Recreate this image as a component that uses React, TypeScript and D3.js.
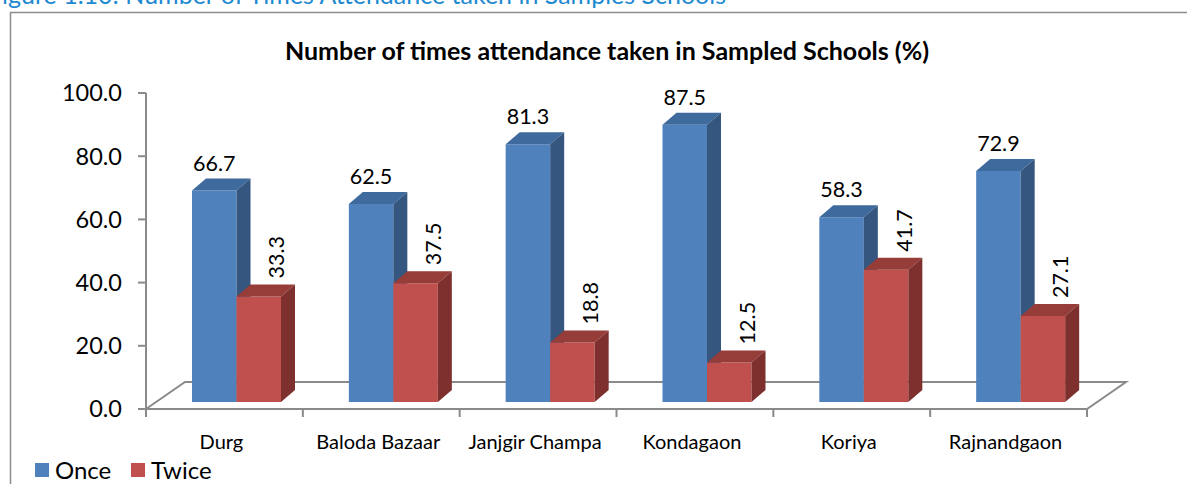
import React from "react";
import * as d3 from "d3";

const categories = ["Durg", "Baloda Bazaar", "Janjgir Champa", "Kondagaon", "Koriya", "Rajnandgaon"];
const onceValues = [66.7, 62.5, 81.3, 87.5, 58.3, 72.9];
const twiceValues = [33.3, 37.5, 18.8, 12.5, 41.7, 27.1];
const yTicks = [0, 20, 40, 60, 80, 100];
const seriesNames = ["Once", "Twice"];

const W = 1187;
const H = 484;
const FONT = "Lato, 'Open Sans', sans-serif";

const colors = {
  once: { front: "#4F81BD", top: "#3F6A9E", side: "#34567F" },
  twice: { front: "#C0504D", top: "#963C39", side: "#7D302E" },
};

export default function App() {
  const x = d3.scaleBand<string>().domain(categories).range([146, 1087]).paddingInner(0).paddingOuter(0);
  const yAxis = d3.scaleLinear().domain([0, 100]).range([409, 93]);
  const yBar = d3.scaleLinear().domain([0, 100]).range([402, 85]);
  const barW = 44.5;
  const barOff = 46;
  const ddx = 14;
  const ddy = 12;
  const fdx = 39;
  const fdy = 27;
  const floorY = yAxis(0);
  const x0 = x.range()[0];
  const x1 = x.range()[1];
  const grey = "#8A8A8A";

  const bar3d = (left: number, v: number, c: { front: string; top: string; side: string }, key: string) => {
    const base = yBar(0);
    const top = yBar(v);
    const r = left + barW;
    return (
      <g key={key}>
        <polygon points={`${left},${top} ${r},${top} ${r},${base} ${left},${base}`} fill={c.front} />
        <polygon points={`${left},${top} ${left + ddx},${top - ddy} ${r + ddx},${top - ddy} ${r},${top}`} fill={c.top} />
        <polygon points={`${r},${top} ${r + ddx},${top - ddy} ${r + ddx},${base - ddy} ${r},${base}`} fill={c.side} />
      </g>
    );
  };

  const bandTicks = categories.map((c) => x(c)!).concat([x1]);

  return (
    <svg width={W} height={H} style={{ position: "absolute", left: 0, top: 0, background: "#fff" }} fontFamily={FONT}>
      {/* caption (cropped at top as in the source) */}
      <text x={-12} y={4} fontSize={25} fill="#1E8AD2">
        Figure 1.10:  Number of Times Attendance taken in Samples Schools
      </text>
      {/* frame */}
      <path d={`M10.5,${H} L10.5,12.5 L${W},12.5`} fill="none" stroke="#8C8C8C" strokeWidth={1.5} />

      {/* title */}
      <text x={607} y={60} textAnchor="middle" fontSize={25} fontWeight="bold" fill="#000">
        Number of times attendance taken in Sampled Schools (%)
      </text>

      {/* floor */}
      <polygon
        points={`${x0},${floorY} ${x0 + fdx},${floorY - fdy} ${x1 + fdx},${floorY - fdy} ${x1},${floorY}`}
        fill="none"
        stroke={grey}
        strokeWidth={2}
      />
      {/* y axis */}
      <line x1={x0} x2={x0} y1={yAxis(100)} y2={floorY} stroke={grey} strokeWidth={2} />
      {yTicks.map((t) => (
        <g key={t}>
          <line x1={x0 - 8} x2={x0} y1={yAxis(t)} y2={yAxis(t)} stroke={grey} strokeWidth={2} />
          <text x={122} y={yAxis(t)} dy="0.36em" textAnchor="end" fontSize={23.5} fill="#000">
            {t.toFixed(1)}
          </text>
        </g>
      ))}
      {bandTicks.map((bx, i) => (
        <line key={i} x1={bx} x2={bx} y1={floorY} y2={floorY + 8} stroke={grey} strokeWidth={2} />
      ))}

      {/* bars */}
      {categories.map((c, i) => {
        const left = x(c)! + barOff;
        return (
          <g key={c}>
            {bar3d(left, onceValues[i], colors.once, "o")}
            {bar3d(left + barW, twiceValues[i], colors.twice, "t")}
            <text
              x={left + barW / 2}
              y={yBar(onceValues[i]) - ddy - 8}
              textAnchor="middle"
              fontSize={21.5}
              fill="#000"
            >
              {onceValues[i].toFixed(1)}
            </text>
            <text
              transform={`translate(${left + barW + 40},${yBar(twiceValues[i]) - ddy - 6}) rotate(-90)`}
              textAnchor="start"
              dy="0.36em"
              fontSize={21.5}
              fill="#000"
            >
              {twiceValues[i].toFixed(1)}
            </text>
          </g>
        );
      })}

      {/* category labels */}
      {categories.map((c) => (
        <text key={c} x={x(c)! + x.bandwidth() / 2 - 3} y={449} textAnchor="middle" fontSize={20} fill="#000">
          {c}
        </text>
      ))}

      {/* legend */}
      {seriesNames.map((s, i) => {
        const lx = i === 0 ? 35 : 131;
        const col = i === 0 ? colors.once.front : colors.twice.front;
        return (
          <g key={s}>
            <rect x={lx} y={463} width={14} height={14} fill={col} />
            <text x={lx + 20} y={479} fontSize={24} fill="#000">
              {s}
            </text>
          </g>
        );
      })}
    </svg>
  );
}
